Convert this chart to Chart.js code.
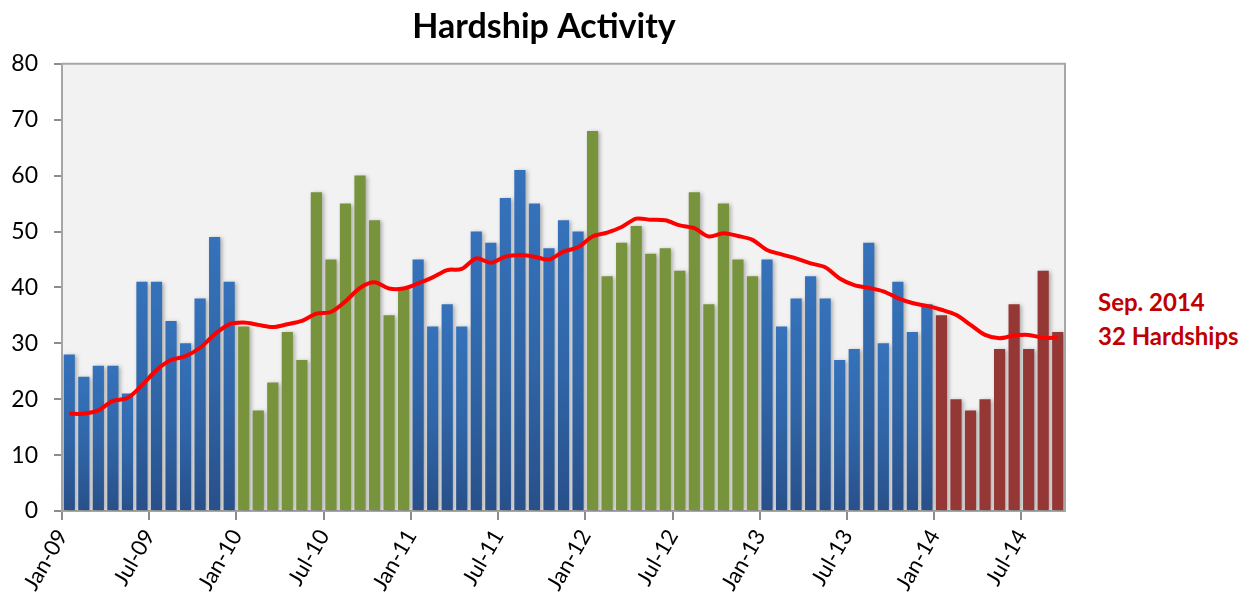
<!DOCTYPE html>
<html>
<head>
<meta charset="utf-8">
<title>Hardship Activity</title>
<script src="https://cdn.jsdelivr.net/npm/chart.js@4.4.0/dist/chart.umd.min.js"></script>
<style>
  html, body { margin: 0; padding: 0; background: #fff; }
  #wrap { position: relative; width: 1252px; height: 603px; }
  #chartBox { position: absolute; left: 0; top: 0; width: 1088px; height: 603px; }
  #note {
    position: absolute; left: 1098px; top: 285px;
    font-family: Lato, "Open Sans", sans-serif; font-weight: bold;
    font-size: 24px; line-height: 34px; color: #c00000;
  }
</style>
</head>
<body>
<div id="wrap">
  <div id="chartBox"><canvas id="hardshipChart"></canvas></div>
  <div id="note">Sep. 2014<br>32 Hardships</div>
</div>
<script>
// months, Jan-09 .. Sep-14
const months = [
  "Jan-09","Feb-09","Mar-09","Apr-09","May-09","Jun-09","Jul-09","Aug-09","Sep-09","Oct-09","Nov-09","Dec-09",
  "Jan-10","Feb-10","Mar-10","Apr-10","May-10","Jun-10","Jul-10","Aug-10","Sep-10","Oct-10","Nov-10","Dec-10",
  "Jan-11","Feb-11","Mar-11","Apr-11","May-11","Jun-11","Jul-11","Aug-11","Sep-11","Oct-11","Nov-11","Dec-11",
  "Jan-12","Feb-12","Mar-12","Apr-12","May-12","Jun-12","Jul-12","Aug-12","Sep-12","Oct-12","Nov-12","Dec-12",
  "Jan-13","Feb-13","Mar-13","Apr-13","May-13","Jun-13","Jul-13","Aug-13","Sep-13","Oct-13","Nov-13","Dec-13",
  "Jan-14","Feb-14","Mar-14","Apr-14","May-14","Jun-14","Jul-14","Aug-14","Sep-14"
];

const hardships = [
  28, 24, 26, 26, 21, 41, 41, 34, 30, 38, 49, 41,
  33, 18, 23, 32, 27, 57, 45, 55, 60, 52, 35, 40,
  45, 33, 37, 33, 50, 48, 56, 61, 55, 47, 52, 50,
  68, 42, 48, 51, 46, 47, 43, 57, 37, 55, 45, 42,
  45, 33, 38, 42, 38, 27, 29, 48, 30, 41, 32, 37,
  35, 20, 18, 20, 29, 37, 29, 43, 32
];

// red trend line
const trend = [
  17.4, 17.4, 18.0, 19.7, 20.2, 22.5, 25.2, 27.0, 27.7, 29.2, 31.6, 33.4,
  33.7, 33.3, 32.9, 33.4, 34.0, 35.3, 35.6, 37.5, 39.9, 40.9, 39.8, 39.8,
  40.7, 41.8, 43.1, 43.3, 45.2, 44.4, 45.5, 45.8, 45.5, 45.0, 46.4, 47.2,
  49.1, 49.8, 50.8, 52.3, 52.1, 52.0, 51.1, 50.6, 49.1, 49.7, 49.2, 48.5,
  46.7, 45.9, 45.2, 44.3, 43.6, 41.6, 40.4, 39.9, 39.3, 38.1, 37.2, 36.7,
  36.0, 35.1, 33.3, 31.5, 30.9, 31.4, 31.5, 31.0, 31.0
];

const xTickLabels = ["Jan-09","Jul-09","Jan-10","Jul-10","Jan-11","Jul-11","Jan-12","Jul-12","Jan-13","Jul-13","Jan-14","Jul-14"];
const yTicks = [0, 10, 20, 30, 40, 50, 60, 70, 80];

// colour per year block: 09 blue, 10 green, 11 blue, 12 green, 13 blue, 14 red
const yearStyle = ["blue", "green", "blue", "green", "blue", "red"];

const FONT = "Lato, 'Open Sans', sans-serif";

function barFill(c) {
  const kind = yearStyle[Math.floor(c.dataIndex / 12)];
  if (kind === "green") return "#77933c";
  if (kind === "red") return "#953735";
  const chart = c.chart;
  const area = chart.chartArea;
  if (!area || !chart.scales.y) return "#3370b8";
  const top = chart.scales.y.getPixelForValue(c.raw);
  const g = chart.ctx.createLinearGradient(0, top, 0, area.bottom);
  g.addColorStop(0, "#3572bb");
  g.addColorStop(0.5, "#3066a8");
  g.addColorStop(1, "#28508a");
  return g;
}

// grey plot area + frame
const plotBg = {
  id: "plotBg",
  beforeDraw(chart) {
    const a = chart.chartArea;
    const ctx = chart.ctx;
    ctx.save();
    ctx.fillStyle = "#f2f2f2";
    ctx.fillRect(a.left, a.top, a.right - a.left, a.bottom - a.top);
    ctx.restore();
  },
  afterDraw(chart) {
    const a = chart.chartArea;
    const ctx = chart.ctx;
    ctx.save();
    ctx.strokeStyle = "#a6a6a6";
    ctx.lineWidth = 2;
    ctx.beginPath();
    ctx.moveTo(a.left, a.top);
    ctx.lineTo(a.right, a.top);
    ctx.lineTo(a.right, a.bottom);
    ctx.stroke();
    ctx.restore();
  }
};

// soft shadow behind the bars
const barShadow = {
  id: "barShadow",
  beforeDatasetDraw(chart, args) {
    if (args.index !== 1) return;
    const ctx = chart.ctx;
    ctx.save();
    ctx.shadowColor = "rgba(0,0,0,0.3)";
    ctx.shadowBlur = 4;
    ctx.shadowOffsetX = 2;
    ctx.shadowOffsetY = 1;
  },
  afterDatasetDraw(chart, args) {
    if (args.index !== 1) return;
    chart.ctx.restore();
  }
};

const chart = new Chart(document.getElementById("hardshipChart"), {
  data: {
    labels: months,
    datasets: [
      {
        type: "line",
        label: "Trend",
        data: trend,
        borderColor: "#ff0000",
        borderWidth: 4,
        pointRadius: 0,
        tension: 0.3,
        order: 0
      },
      {
        type: "bar",
        label: "Hardships",
        data: hardships,
        backgroundColor: barFill,
        barPercentage: 0.77,
        categoryPercentage: 1.0,
        order: 1
      }
    ]
  },
  options: {
    responsive: true,
    maintainAspectRatio: false,
    animation: false,
    layout: { padding: 0 },
    plugins: {
      legend: { display: false },
      tooltip: { enabled: false },
      title: {
        display: true,
        text: "Hardship Activity",
        color: "#000",
        font: { family: FONT, size: 34, weight: "bold" },
        padding: { top: 7, bottom: 16 }
      }
    },
    scales: {
      x: {
        offset: true,
        grid: {
          offset: true,
          drawOnChartArea: false,
          tickLength: 9,
          lineWidth: 2,
          color: c => (c.index % 6 === 0 ? "#8c8c8c" : "rgba(0,0,0,0)")
        },
        border: { color: "#a6a6a6", width: 2 },
        ticks: {
          autoSkip: false,
          minRotation: 60,
          maxRotation: 60,
          labelOffset: -7,
          padding: 5,
          color: "#000",
          font: { family: FONT, size: 22 },
          callback: function (v) {
            const l = this.getLabelForValue(v);
            return xTickLabels.includes(l) ? l : "";
          }
        },
        afterFit: s => { s.height = 92; }
      },
      y: {
        min: yTicks[0],
        max: yTicks[yTicks.length - 1],
        afterBuildTicks: s => { s.ticks = yTicks.map(v => ({ value: v })); },
        grid: { drawOnChartArea: false, tickLength: 8, lineWidth: 2, color: "#8c8c8c" },
        border: { color: "#a6a6a6", width: 2 },
        ticks: {
          padding: 16,
          color: "#000",
          font: { family: FONT, size: 23 }
        },
        afterFit: s => { s.width = 62; }
      },
      // empty right-hand spacer so the title centres on the whole canvas
      yRight: {
        position: "right",
        min: 0,
        max: 80,
        grid: { display: false },
        border: { display: false },
        ticks: { display: false },
        afterFit: s => { s.width = 23; }
      }
    }
  },
  plugins: [plotBg, barShadow]
});
</script>
</body>
</html>
